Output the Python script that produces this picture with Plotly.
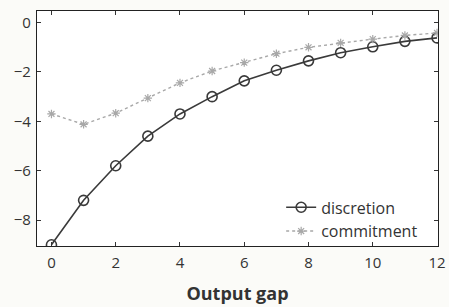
import plotly.graph_objects as go

x_vals = list(range(13))
discretion = [-9.0, -7.2, -5.8, -4.6, -3.7, -3.0, -2.36, -1.93, -1.55, -1.22, -0.98, -0.76, -0.62]
commitment = [-3.7, -4.12, -3.67, -3.06, -2.44, -1.96, -1.62, -1.26, -1.0, -0.82, -0.67, -0.52, -0.42]
x_ticks = [0, 2, 4, 6, 8, 10, 12]
y_ticks = [0, -2, -4, -6, -8]

fig = go.Figure()
fig.add_trace(go.Scatter(
    x=x_vals, y=discretion, name="discretion", mode="lines+markers",
    line=dict(color="#3a3a3a", width=1.6),
    marker=dict(symbol="circle-open", size=10, color="#3a3a3a", line=dict(width=1.6)),
))
fig.add_trace(go.Scatter(
    x=x_vals, y=commitment, name="commitment", mode="lines+markers",
    line=dict(color="#a8a8a8", width=1.4, dash="dot"),
    marker=dict(symbol="asterisk-open", size=7, color="#a8a8a8", line=dict(width=1.2, color="#a8a8a8")),
))

axis_common = dict(
    showline=True, linecolor="#222", linewidth=1.2, mirror="ticks",
    ticks="inside", ticklen=4, tickcolor="#333", showgrid=False, zeroline=False,
    automargin=False,
    tickfont=dict(family="Open Sans", size=15, color="#333"),
)
fig.update_xaxes(range=[-0.45, 12.03], tickvals=x_ticks, ticklabelstandoff=3,
                 title=dict(text="<b>Output gap</b>", font=dict(family="Open Sans", size=18, color="#333"), standoff=16),
                 **axis_common)
fig.update_yaxes(range=[-9.05, 0.47], tickvals=y_ticks, ticklabelstandoff=2,
                 ticktext=["0", "\u22122", "\u22124", "\u22126", "\u22128"],
                 **axis_common)

fig.update_layout(
    width=449, height=307,
    margin=dict(l=37, r=11, t=11, b=61),
    paper_bgcolor="#fbfbf8", plot_bgcolor="#ffffff",
    showlegend=True,
    legend=dict(x=0.963, y=-0.01, xanchor="right", yanchor="bottom",
                bgcolor="rgba(0,0,0,0)", font=dict(family="Open Sans", size=16, color="#333"),
                tracegroupgap=0, itemwidth=30),
)
fig.write_html("out.html", config={"displayModeBar": False},
               post_script="document.body.style.margin='0';")
